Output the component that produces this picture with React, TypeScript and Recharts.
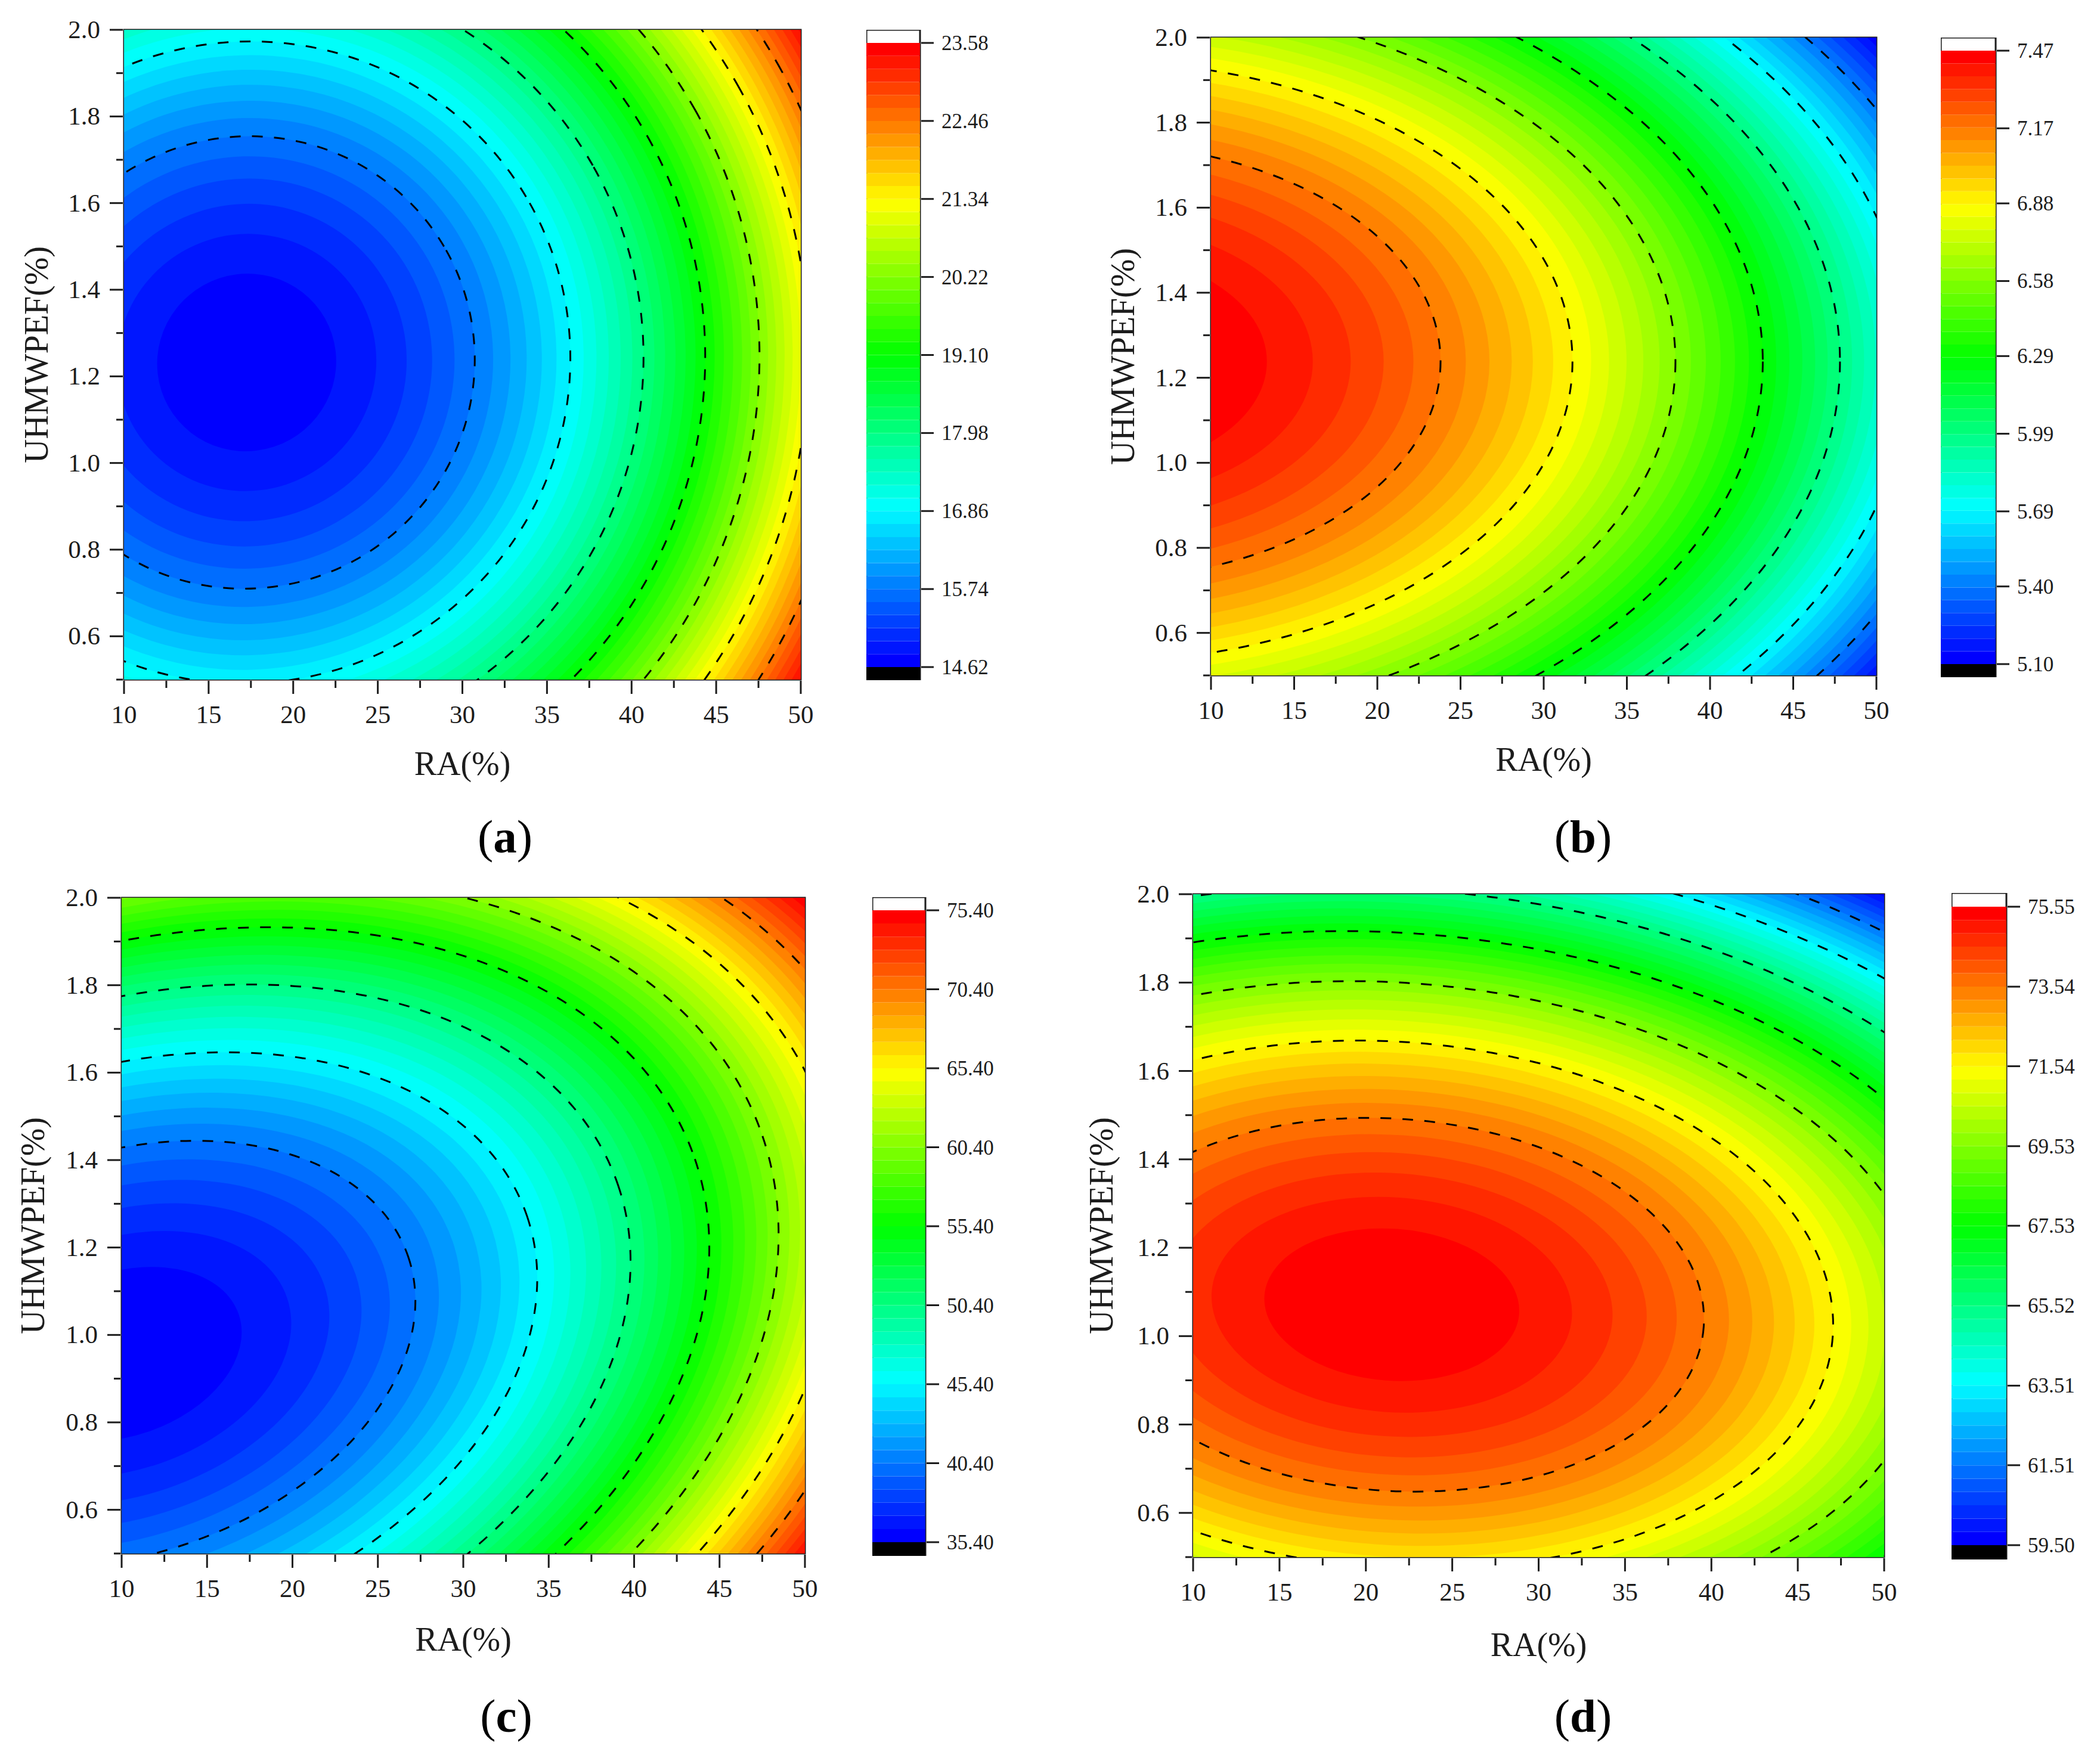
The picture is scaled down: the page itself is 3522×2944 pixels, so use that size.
import React from 'react';
import { ScatterChart, Scatter, BarChart, Bar, XAxis, YAxis, ReferenceArea } from 'recharts';

// RA and UHMWPEF axis ticks, shared by the four maps
const raTicks = [10, 12.5, 15, 17.5, 20, 22.5, 25, 27.5, 30, 32.5, 35, 37.5, 40, 42.5, 45, 47.5, 50];
const fibreTicks = [0.5, 0.6, 0.7, 0.8, 0.9, 1.0, 1.1, 1.2, 1.3, 1.4, 1.5, 1.6, 1.7, 1.8, 1.9, 2.0];

// colour bar labels
const scaleA = [14.62, 15.74, 16.86, 17.98, 19.1, 20.22, 21.34, 22.46, 23.58];
const scaleB = [5.1, 5.4, 5.69, 5.99, 6.29, 6.58, 6.88, 7.17, 7.47];
const scaleC = [35.4, 40.4, 45.4, 50.4, 55.4, 60.4, 65.4, 70.4, 75.4];
const scaleD = [59.5, 61.51, 63.51, 65.52, 67.53, 69.53, 71.54, 73.54, 75.55];

// long half-axis (in RA %) of each band edge, read outward from the centre of each map
const edgesA = [5.31, 7.69, 9.49, 11.0, 12.33, 13.53, 14.62, 15.65, 16.61, 17.51, 18.38, 19.2, 19.99, 20.75, 21.48, 22.19, 22.88, 23.54, 24.19, 24.82, 25.44, 26.04, 26.63, 27.2, 27.76, 28.31, 28.86, 29.39, 29.91, 30.42, 30.93, 31.42, 31.91, 32.39, 32.87, 33.33, 33.79, 34.25, 34.7, 35.14, 35.58, 36.01, 36.44, 36.86, 37.28, 37.69, 38.1, 38.5];
const edgesB = [10.61, 13.37, 15.65, 17.63, 19.42, 21.05, 22.57, 23.99, 25.33, 26.6, 27.82, 28.98, 30.1, 31.18, 32.23, 33.24, 34.22, 35.17, 36.1, 37.0, 37.89, 38.75, 39.59, 40.42, 41.23, 42.02, 42.8, 43.57, 44.32, 45.06, 45.79, 46.51, 47.21, 47.91, 48.59, 49.27, 49.94, 50.59, 51.24, 51.88, 52.52, 53.14, 53.76, 54.37, 54.98, 55.58, 56.17, 56.75];
const edgesC = [7.24, 10.23, 12.53, 14.47, 16.18, 17.72, 19.14, 20.47, 21.71, 22.88, 24.0, 25.07, 26.09, 27.07, 28.02, 28.94, 29.83, 30.7, 31.54, 32.36, 33.16, 33.94, 34.7, 35.45, 36.18, 36.9, 37.6, 38.29, 38.97, 39.63, 40.29, 40.93, 41.57, 42.19, 42.81, 43.42, 44.01, 44.61, 45.19, 45.76, 46.33, 46.89, 47.45, 48.0, 48.54, 49.08, 49.61, 50.13];
const edgesD = [7.39, 10.45, 12.8, 14.78, 16.52, 18.1, 19.55, 20.9, 22.16, 23.36, 24.5, 25.59, 26.64, 27.64, 28.61, 29.55, 30.46, 31.34, 32.2, 33.04, 33.86, 34.65, 35.43, 36.19, 36.94, 37.67, 38.39, 39.09, 39.79, 40.47, 41.13, 41.79, 42.44, 43.08, 43.71, 44.33, 44.94, 45.54, 46.14, 46.73, 47.31, 47.88, 48.45, 49.01, 49.56, 50.11, 50.65, 51.18];

const FONT = '"Liberation Serif", "Times New Roman", serif';
const INK = '#1c1c1c';
const BANDS = 48;
const GUTTER_L = 190;
const GUTTER_B = 190;
const PAD = 30;

const panels = [
  { id: 'a', edges: edgesA, scale: scaleA, peak: false, cx: 17.25, cy: 1.232, aspect: 0.985, tilt: -29.4,
    left: 208, top: 50, w: 1135, h: 1090, barL: 1453, barR: 1543, barT: 50, tickT: 72, tickB: 1119, barB: 1141, labelX: 847, labelY: 1429, yOff: 42, xOff: 30 },
  { id: 'b', edges: edgesB, scale: scaleB, peak: true, cx: 2.75, cy: 1.238, aspect: 0.624, tilt: 0,
    left: 2031, top: 63, w: 1116, h: 1070, barL: 3255, barR: 3347, barT: 63, tickT: 85, tickB: 1114, barB: 1136, labelX: 2655, labelY: 1429, yOff: 41, xOff: 30 },
  { id: 'c', edges: edgesC, scale: scaleC, peak: false, cx: 10, cy: 0.956, aspect: 0.6625, tilt: -18.8,
    left: 204, top: 1506, w: 1146, h: 1100, barL: 1463, barR: 1552, barT: 1505, tickT: 1527, tickB: 2587, barB: 2610, labelX: 849, labelY: 2904, yOff: 40, xOff: 27 },
  { id: 'd', edges: edgesD, scale: scaleD, peak: true, cx: 21.5, cy: 1.071, aspect: 0.595, tilt: 4.1,
    left: 2001, top: 1500, w: 1159, h: 1112, barL: 3273, barR: 3365, barT: 1498, tickT: 1521, tickB: 2592, barB: 2616, labelX: 2655, labelY: 2904, yOff: 35, xOff: 24 },
];

// origin style rainbow: blue, cyan, green, yellow, red
const bandColor = (i: number) => {
  const t = (i / (BANDS - 1)) * 4;
  const f = (t - Math.floor(t)) * 255;
  const seg = Math.floor(t);
  let rgb = [255, 0, 0];
  if (seg === 0) rgb = [0, f, 255];
  if (seg === 1) rgb = [0, 255, 255 - f];
  if (seg === 2) rgb = [f, 255, 0];
  if (seg === 3) rgb = [255, 255 - f, 0];
  return `rgb(${rgb.map(Math.round).join(',')})`;
};

const RaTick = ({ x, y, payload }: any) => {
  const major = payload.value % 5 === 0;
  return (
    <g>
      <line x1={x} x2={x} y1={y} y2={y + (major ? 22 : 12)} stroke={INK} strokeWidth={3} />
      {major && <text x={x} y={y + 71} textAnchor="middle" fontSize={43} fontFamily={FONT} fill={INK}>{payload.value}</text>}
    </g>
  );
};

const FibreTick = ({ x, y, payload }: any) => {
  const major = Math.round(payload.value * 10) % 2 === 0;
  return (
    <g>
      <line x1={x} x2={x - (major ? 22 : 11)} y1={y} y2={y} stroke={INK} strokeWidth={3} />
      {major && <text x={x - 38} y={y + 14} textAnchor="end" fontSize={43} fontFamily={FONT} fill={INK}>{payload.value.toFixed(1)}</text>}
    </g>
  );
};

const ScaleTick = ({ x, y, payload }: any) => (
  <g>
    <line x1={x} x2={x + 21} y1={y} y2={y} stroke={INK} strokeWidth={3} />
    <text x={x + 34} y={y + 12} fontSize={35} fontFamily={FONT} fill={INK}>{payload.value.toFixed(2)}</text>
  </g>
);

function ContourMap({ p }: { p: (typeof panels)[number] }) {
  const pxPerRa = p.w / 40;
  // outermost rings first, so the inner ones paint over them
  const fills = [...p.edges.map((r, i) => ({ x: p.cx, y: p.cy, r, band: i })), { x: p.cx, y: p.cy, r: 120, band: BANDS - 1 }].reverse();
  const lines = p.edges.map((r, i) => ({ x: p.cx, y: p.cy, r, k: i + 1 })).filter(d => d.k % 6 === 0 && d.k < 48);

  const ring = (props: any) => {
    const rx = props.payload.r * pxPerRa;
    const band = p.peak ? BANDS - 1 - props.payload.band : props.payload.band;
    return <ellipse cx={props.cx} cy={props.cy} rx={rx} ry={rx * p.aspect} transform={`rotate(${p.tilt} ${props.cx} ${props.cy})`} fill={bandColor(band)} />;
  };
  const dashed = (props: any) => {
    const rx = props.payload.r * pxPerRa;
    return <ellipse cx={props.cx} cy={props.cy} rx={rx} ry={rx * p.aspect} transform={`rotate(${p.tilt} ${props.cx} ${props.cy})`} fill="none" stroke="#000" strokeWidth={3} strokeDasharray="18 19" />;
  };

  return (
    <div style={{ position: 'absolute', left: p.left - GUTTER_L, top: p.top - PAD }}>
      <ScatterChart width={p.w + GUTTER_L + PAD} height={p.h + GUTTER_B + PAD} margin={{ top: PAD, right: PAD, left: 0, bottom: 0 }}>
        <XAxis type="number" dataKey="x" domain={[10, 50]} ticks={raTicks} interval={0} allowDataOverflow height={GUTTER_B}
          tick={RaTick} tickLine={false} tickSize={0} axisLine={false}
          label={{ value: 'RA(%)', position: 'insideBottom', offset: p.xOff, fontSize: 56, fontFamily: FONT, fill: INK }} />
        <YAxis type="number" dataKey="y" domain={[0.5, 2]} ticks={fibreTicks} interval={0} allowDataOverflow width={GUTTER_L}
          tick={FibreTick} tickLine={false} tickSize={0} axisLine={false}
          label={{ value: 'UHMWPEF(%)', angle: -90, position: 'insideLeft', offset: p.yOff, fontSize: 56, fontFamily: FONT, fill: INK, style: { textAnchor: 'middle' } }} />
        <Scatter data={fills} shape={ring} isAnimationActive={false} />
        <Scatter data={lines} shape={dashed} isAnimationActive={false} />
        <ReferenceArea x1={10} x2={50} y1={0.5} y2={2} fill="none" fillOpacity={0} stroke={INK} strokeWidth={3} ifOverflow="visible" />
      </ScatterChart>
    </div>
  );
}

function ColourBar({ p }: { p: (typeof panels)[number] }) {
  const lo = p.scale[0];
  const hi = p.scale[p.scale.length - 1];
  const perPx = (hi - lo) / (p.tickB - p.tickT);
  const domain = [lo - (p.barB - p.tickB) * perPx, hi + (p.tickT - p.barT) * perPx];
  const row: Record<string, number | string> = { name: 'scale', base: lo };
  for (let i = 0; i < BANDS; i++) row[`b${i}`] = (hi - lo) / BANDS;

  return (
    <div style={{ position: 'absolute', left: p.barL, top: p.barT }}>
      <BarChart width={p.barR - p.barL + 160} height={p.barB - p.barT} data={[row]} margin={{ top: 0, right: 0, left: 0, bottom: 0 }} barCategoryGap={0}>
        <XAxis dataKey="name" hide />
        <YAxis orientation="right" type="number" domain={domain} ticks={p.scale} interval={0} allowDataOverflow width={160}
          tick={ScaleTick} tickLine={false} tickSize={0} axisLine={false} />
        <Bar dataKey="base" stackId="s" fill="#000" isAnimationActive={false} />
        {Array.from({ length: BANDS }, (_, i) => (
          <Bar key={i} dataKey={`b${i}`} stackId="s" fill={bandColor(i)} isAnimationActive={false} />
        ))}
        <ReferenceArea y1={domain[0]} y2={domain[1]} fill="none" fillOpacity={0} stroke={INK} strokeWidth={3} ifOverflow="visible" />
      </BarChart>
    </div>
  );
}

export default function App() {
  return (
    <div style={{ position: 'absolute', left: 0, top: 0, width: 3522, height: 2944, background: '#fff', overflow: 'hidden' }}>
      {panels.map(p => (
        <React.Fragment key={p.id}>
          <ContourMap p={p} />
          <ColourBar p={p} />
          <div style={{ position: 'absolute', left: p.labelX - 100, width: 200, top: p.labelY - 70, textAlign: 'center', fontFamily: FONT, fontSize: 79, lineHeight: '90px', color: '#000' }}>
            (<b>{p.id}</b>)
          </div>
        </React.Fragment>
      ))}
    </div>
  );
}
